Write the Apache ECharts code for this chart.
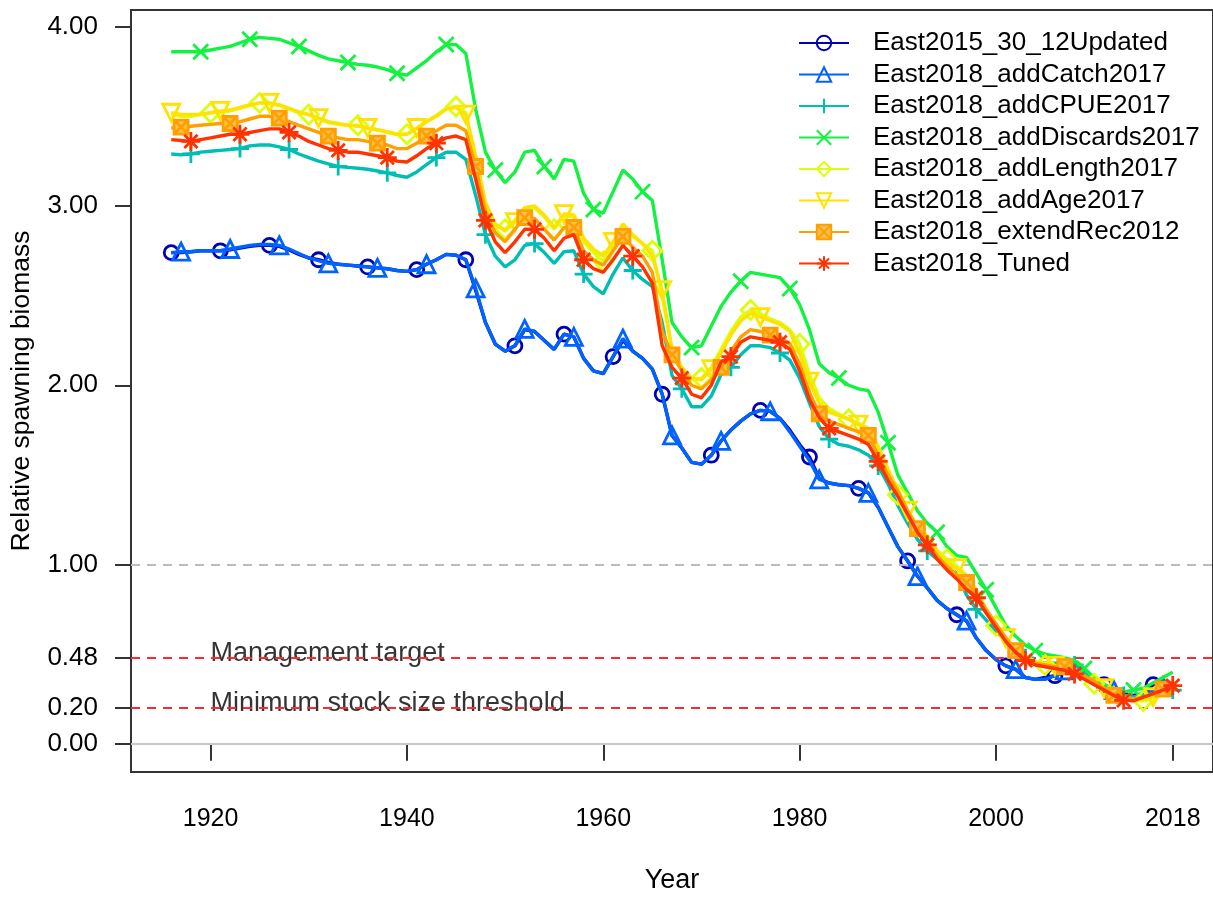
<!DOCTYPE html>
<html>
<head>
<meta charset="utf-8">
<script src="https://cdn.jsdelivr.net/npm/echarts@6/dist/echarts.min.js"></script>
<style>
  html, body { margin: 0; padding: 0; background: #fff; }
  #chart { width: 1213px; height: 899px; }
</style>
</head>
<body>
<div id="chart"></div>
<script>
// Relative spawning biomass by model run, 1916-2018
const firstYear = 1916;

const seriesNames = [
  'East2015_30_12Updated',
  'East2018_addCatch2017',
  'East2018_addCPUE2017',
  'East2018_addDiscards2017',
  'East2018_addLength2017',
  'East2018_addAge2017',
  'East2018_extendRec2012',
  'East2018_Tuned'
];

const east2015Updated = [
  2.74, 2.74, 2.745, 2.75, 2.75, 2.75, 2.755, 2.765, 2.775, 2.78,
  2.78, 2.775, 2.755, 2.73, 2.71, 2.70, 2.685, 2.675, 2.67, 2.665,
  2.66, 2.655, 2.65, 2.64, 2.635, 2.645, 2.675, 2.70, 2.73, 2.725,
  2.70, 2.53, 2.35, 2.23, 2.19, 2.22, 2.31, 2.30, 2.25, 2.20,
  2.285, 2.27, 2.15, 2.08, 2.065, 2.16, 2.25, 2.19, 2.15, 2.09,
  1.95, 1.72, 1.65, 1.57, 1.56, 1.61, 1.69, 1.75, 1.80, 1.84,
  1.86, 1.855, 1.815, 1.75, 1.67, 1.60, 1.48, 1.455, 1.445, 1.44,
  1.425, 1.40, 1.32, 1.21, 1.10, 1.02, 0.935, 0.87, 0.80, 0.755,
  0.72, 0.685, 0.59, 0.52, 0.47, 0.435, 0.415, 0.37, 0.36, 0.37,
  0.38, 0.40, 0.41, 0.40, 0.37, 0.33, 0.30, 0.28, 0.27, 0.28,
  0.33, 0.34
];

const addCatch2017 = [
  2.74, 2.745, 2.745, 2.75, 2.75, 2.75, 2.76, 2.77, 2.78, 2.785,
  2.785, 2.78, 2.76, 2.735, 2.71, 2.695, 2.68, 2.675, 2.67, 2.665,
  2.66, 2.655, 2.65, 2.64, 2.635, 2.645, 2.675, 2.70, 2.73, 2.725,
  2.70, 2.54, 2.35, 2.23, 2.19, 2.22, 2.315, 2.30, 2.25, 2.20,
  2.285, 2.27, 2.15, 2.08, 2.065, 2.16, 2.26, 2.19, 2.15, 2.09,
  1.95, 1.72, 1.65, 1.57, 1.56, 1.61, 1.69, 1.75, 1.80, 1.84,
  1.86, 1.855, 1.815, 1.74, 1.66, 1.58, 1.475, 1.455, 1.445, 1.44,
  1.425, 1.40, 1.32, 1.21, 1.10, 1.02, 0.935, 0.87, 0.80, 0.755,
  0.72, 0.687, 0.59, 0.52, 0.47, 0.435, 0.417, 0.37, 0.36, 0.36,
  0.38, 0.41, 0.41, 0.40, 0.37, 0.33, 0.30, 0.27, 0.26, 0.27,
  0.30, 0.32, 0.33
];

const addCPUE2017 = [
  3.29, 3.285, 3.29, 3.30, 3.305, 3.31, 3.315, 3.32, 3.335, 3.34,
  3.34, 3.33, 3.315, 3.29, 3.27, 3.25, 3.235, 3.22, 3.215, 3.21,
  3.205, 3.195, 3.185, 3.17, 3.16, 3.19, 3.23, 3.27, 3.30, 3.30,
  3.26, 3.06, 2.84, 2.72, 2.66, 2.70, 2.78, 2.79, 2.74, 2.68,
  2.745, 2.75, 2.62, 2.55, 2.51, 2.62, 2.71, 2.64, 2.59, 2.55,
  2.35, 2.055, 1.98, 1.88, 1.88, 1.94, 2.06, 2.10, 2.17, 2.22,
  2.22, 2.21, 2.18, 2.14, 2.04, 1.90, 1.77, 1.70, 1.67, 1.66,
  1.64, 1.61, 1.55, 1.45, 1.33, 1.23, 1.14, 1.076, 1.03, 1.00,
  0.95, 0.83, 0.75, 0.69, 0.63, 0.57, 0.52, 0.48, 0.46, 0.45,
  0.45, 0.45, 0.44, 0.40, 0.35, 0.31, 0.28, 0.27, 0.26, 0.27,
  0.28, 0.29, 0.30
];

const addDiscards2017 = [
  3.86, 3.86, 3.86, 3.86, 3.87, 3.88, 3.89, 3.91, 3.93, 3.94,
  3.935, 3.93, 3.91, 3.89, 3.865, 3.84, 3.82, 3.81, 3.80, 3.79,
  3.785, 3.775, 3.76, 3.74, 3.73, 3.77, 3.81, 3.86, 3.90, 3.90,
  3.85, 3.54, 3.30, 3.20, 3.13, 3.19, 3.30, 3.31, 3.22, 3.15,
  3.26, 3.25, 3.07, 2.98, 2.96, 3.08, 3.20, 3.15, 3.08, 3.03,
  2.70, 2.35, 2.27, 2.21, 2.22, 2.33, 2.44, 2.52, 2.58, 2.63,
  2.62, 2.61, 2.60, 2.54, 2.45, 2.31, 2.12, 2.07, 2.04, 2.00,
  1.98, 1.97, 1.85, 1.68, 1.50, 1.40, 1.30, 1.23, 1.18, 1.10,
  1.05, 1.04, 0.95, 0.86, 0.76, 0.66, 0.60, 0.55, 0.52, 0.50,
  0.49, 0.48, 0.465, 0.42, 0.37, 0.33, 0.31, 0.29, 0.30, 0.31,
  0.34, 0.37, 0.40
];

const addLength2017 = [
  3.51, 3.50, 3.50, 3.51, 3.52, 3.525, 3.53, 3.545, 3.56, 3.575,
  3.57, 3.56, 3.54, 3.52, 3.51, 3.485, 3.465, 3.455, 3.45, 3.45,
  3.435, 3.425, 3.41, 3.40, 3.40, 3.43, 3.47, 3.505, 3.545, 3.555,
  3.52, 3.27, 3.00, 2.89, 2.87, 2.92, 2.99, 2.99, 2.94, 2.87,
  2.945, 2.94, 2.80, 2.74, 2.69, 2.79, 2.89, 2.83, 2.79, 2.75,
  2.50, 2.19, 2.09, 2.03, 2.04, 2.10, 2.20, 2.30, 2.38, 2.42,
  2.40, 2.37, 2.35, 2.31, 2.23, 2.06, 1.93, 1.87, 1.84, 1.81,
  1.79, 1.76, 1.66, 1.53, 1.39, 1.30, 1.22, 1.16, 1.08, 1.03,
  0.99, 0.94, 0.86, 0.75, 0.66, 0.59, 0.53, 0.49, 0.455, 0.44,
  0.43, 0.42, 0.40, 0.37, 0.335, 0.30, 0.27, 0.25, 0.24, 0.24,
  0.25, 0.28, 0.31
];

const addAge2017 = [
  3.52, 3.51, 3.51, 3.51, 3.52, 3.53, 3.535, 3.55, 3.565, 3.575,
  3.575, 3.565, 3.545, 3.525, 3.51, 3.49, 3.47, 3.46, 3.45, 3.445,
  3.435, 3.425, 3.415, 3.40, 3.40, 3.435, 3.47, 3.50, 3.54, 3.55,
  3.51, 3.28, 3.02, 2.90, 2.86, 2.91, 2.99, 3.00, 2.95, 2.88,
  2.955, 2.95, 2.82, 2.76, 2.72, 2.80, 2.90, 2.84, 2.79, 2.72,
  2.53, 2.20, 2.10, 2.04, 2.03, 2.09, 2.18, 2.28, 2.36, 2.40,
  2.38, 2.36, 2.34, 2.30, 2.18, 2.02, 1.90, 1.85, 1.83, 1.81,
  1.78, 1.75, 1.65, 1.53, 1.42, 1.30, 1.21, 1.15, 1.07, 1.01,
  0.98, 0.93, 0.85, 0.74, 0.66, 0.59, 0.53, 0.49, 0.46, 0.45,
  0.435, 0.42, 0.40, 0.37, 0.34, 0.31, 0.28, 0.26, 0.25, 0.25,
  0.26, 0.29, 0.32
];

const extendRec2012 = [
  3.435, 3.44, 3.445, 3.45, 3.455, 3.46, 3.46, 3.47, 3.485, 3.50,
  3.50, 3.49, 3.47, 3.45, 3.43, 3.41, 3.39, 3.38, 3.37, 3.37,
  3.36, 3.35, 3.34, 3.32, 3.32, 3.35, 3.39, 3.42, 3.45, 3.45,
  3.42, 3.22, 2.97, 2.85, 2.80, 2.87, 2.935, 2.93, 2.87, 2.81,
  2.88, 2.88, 2.75, 2.70, 2.67, 2.75, 2.83, 2.77, 2.72, 2.63,
  2.30, 2.17, 2.08, 2.00, 1.98, 2.03, 2.10, 2.19, 2.27, 2.31,
  2.30, 2.28, 2.27, 2.23, 2.12, 1.96, 1.84, 1.80, 1.78, 1.76,
  1.74, 1.72, 1.61, 1.50, 1.41, 1.30, 1.20, 1.13, 1.05, 0.99,
  0.94, 0.90, 0.83, 0.75, 0.67, 0.59, 0.52, 0.48, 0.45, 0.44,
  0.43, 0.43, 0.41, 0.38, 0.35, 0.31, 0.27, 0.255, 0.25, 0.26,
  0.28, 0.305, 0.315
];

const tuned = [
  3.37, 3.365, 3.36, 3.37, 3.38, 3.39, 3.40, 3.40, 3.41, 3.42,
  3.43, 3.43, 3.41, 3.39, 3.36, 3.34, 3.32, 3.31, 3.30, 3.30,
  3.29, 3.28, 3.27, 3.25, 3.245, 3.28, 3.32, 3.35, 3.38, 3.39,
  3.37, 3.15, 2.92, 2.80, 2.74, 2.80, 2.87, 2.87, 2.82, 2.75,
  2.82, 2.84, 2.70, 2.65, 2.63, 2.70, 2.78, 2.72, 2.66, 2.57,
  2.22, 2.10, 2.04, 1.95, 1.93, 2.00, 2.13, 2.16, 2.24, 2.27,
  2.26, 2.25, 2.24, 2.20, 2.08, 1.92, 1.82, 1.76, 1.74, 1.72,
  1.70, 1.67, 1.575, 1.47, 1.38, 1.28, 1.18, 1.11, 1.03, 0.97,
  0.92, 0.86, 0.815, 0.73, 0.65, 0.57, 0.51, 0.465, 0.44, 0.43,
  0.42, 0.41, 0.39, 0.36, 0.33, 0.30, 0.27, 0.243, 0.24, 0.26,
  0.28, 0.30, 0.325
];

const seriesValues = [
  east2015Updated, addCatch2017, addCPUE2017, addDiscards2017,
  addLength2017, addAge2017, extendRec2012, tuned
];

// Reference levels and their captions
const refLevels = [1.0, 0.48, 0.20, 0.0];
const refCaptions = ['Management target', 'Minimum stock size threshold'];
const refCaptionLevels = [0.48, 0.20];
const refCaptionYear = 1920;

const yTicks = [0, 0.2, 0.48, 1, 2, 3, 4];
const xTicks = [1920, 1940, 1960, 1980, 2000, 2018];

// Styling per run
const colors = ['#0000B4', '#0063FF', '#00BEB4', '#13F240', '#DDFE0B', '#FEE201', '#FF9F00', '#FF3300'];
const pathPlus = 'path://M5,0L5,10M0,5L10,5';
const pathCross = 'path://M0,0L10,10M10,0L0,10';
const pathBoxX = 'path://M0,0L10,0L10,10L0,10ZM0,0L10,10M10,0L0,10';
const pathStar = 'path://M5,0L5,10M0,5L10,5M1.5,1.5L8.5,8.5M8.5,1.5L1.5,8.5';
const markerStyle = [
  { symbol: 'circle', size: 14, rotate: 0, fill: 'rgba(0,0,0,0)' },
  { symbol: 'triangle', size: 17, rotate: 0, fill: 'rgba(0,0,0,0)' },
  { symbol: pathPlus, size: 18, rotate: 0, fill: 'rgba(0,0,0,0)' },
  { symbol: pathCross, size: 15, rotate: 0, fill: 'rgba(0,0,0,0)' },
  { symbol: 'diamond', size: 19, rotate: 0, fill: 'rgba(0,0,0,0)' },
  { symbol: 'triangle', size: 17, rotate: 180, fill: 'rgba(0,0,0,0)' },
  { symbol: pathBoxX, size: 14, rotate: 0, fill: '#FFC04D' },
  { symbol: pathStar, size: 19, rotate: 0, fill: 'rgba(0,0,0,0)' }
];
// markers are staggered: run i gets a point every 5 years, shifted by one year per run
const markerPhase = [1, 2, 3, 4, 0, 1, 2, 3];

const FONT = '"Liberation Sans", Arial, Helvetica, sans-serif';
const INK = '#000000';

const lineSeries = seriesValues.map((vals, i) => {
  const m = markerStyle[i];
  return {
    name: seriesNames[i],
    type: 'line',
    z: 3 + i,
    data: vals.map((v, k) => [firstYear + k, v]),
    symbol: m.symbol,
    symbolRotate: m.rotate,
    symbolKeepAspect: true,
    showAllSymbol: true,
    symbolSize: (val) => ((val[0] % 5) === markerPhase[i] ? m.size : 0),
    lineStyle: { color: colors[i], width: 3.4 },
    itemStyle: { color: m.fill, borderColor: colors[i], borderWidth: 2.8 },
    emphasis: { disabled: true },
    animation: false
  };
});

const refSeries = {
  name: 'reference',
  type: 'line',
  z: 1,
  data: [],
  silent: true,
  markLine: {
    silent: true,
    symbol: ['none', 'none'],
    label: { show: false },
    animation: false,
    data: [
      { yAxis: refLevels[0], lineStyle: { color: '#BDBDBD', width: 2, type: [9, 7] } },
      { yAxis: refLevels[1], lineStyle: { color: '#FF2A2A', width: 2, type: [9, 7] } },
      { yAxis: refLevels[2], lineStyle: { color: '#FF2A2A', width: 2, type: [9, 7] } },
      { yAxis: refLevels[3], lineStyle: { color: '#C8C8C8', width: 2, type: 'solid' } }
    ]
  }
};

const captionSeries = {
  name: 'captions',
  type: 'scatter',
  z: 2,
  silent: true,
  symbolSize: 0,
  data: refCaptionLevels.map((v, i) => ({ value: [refCaptionYear, v], caption: refCaptions[i] })),
  label: {
    show: true,
    position: [0, 0],
    align: 'left',
    verticalAlign: 'bottom',
    offset: [0, 9],
    color: INK,
    fontFamily: FONT,
    fontSize: 27,
    formatter: (p) => p.data.caption
  },
  animation: false
};

const chart = echarts.init(document.getElementById('chart'), null, { renderer: 'canvas' });
chart.setOption({
  backgroundColor: '#ffffff',
  animation: false,
  grid: {
    left: 131, top: 10, width: 1085, height: 765,
    show: true, borderColor: '#333333', borderWidth: 2, backgroundColor: 'transparent'
  },
  legend: {
    data: seriesNames,
    orient: 'vertical',
    left: 793,
    top: 25,
    itemWidth: 50,
    itemHeight: 18,
    itemGap: 5.5,
    textStyle: { fontFamily: FONT, fontSize: 26, lineHeight: 26, color: INK, padding: [0, 0, 0, 19] },
    selectedMode: false
  },
  xAxis: {
    type: 'value',
    min: 1911.9,
    max: 2022.1,
    name: 'Year',
    nameLocation: 'middle',
    nameGap: 95,
    nameTextStyle: { fontFamily: FONT, fontSize: 27, color: INK },
    axisLine: { show: false },
    splitLine: { show: false },
    axisTick: { show: true, length: 17, customValues: xTicks, lineStyle: { color: '#333', width: 2 } },
    axisLabel: { customValues: xTicks, margin: 35, fontFamily: FONT, fontSize: 25, color: INK, formatter: (v) => String(v) }
  },
  yAxis: {
    type: 'value',
    min: -0.157,
    max: 4.093,
    name: 'Relative spawning biomass',
    nameLocation: 'middle',
    nameGap: 96,
    nameTextStyle: { fontFamily: FONT, fontSize: 26.5, color: INK },
    axisLine: { show: false },
    splitLine: { show: false },
    axisTick: { show: true, length: 16, customValues: yTicks, lineStyle: { color: '#333', width: 2 } },
    axisLabel: { customValues: yTicks, margin: 33, fontFamily: FONT, fontSize: 26, color: INK, formatter: (v) => v.toFixed(2) }
  },
  series: [refSeries, captionSeries].concat(lineSeries)
});
</script>
</body>
</html>
